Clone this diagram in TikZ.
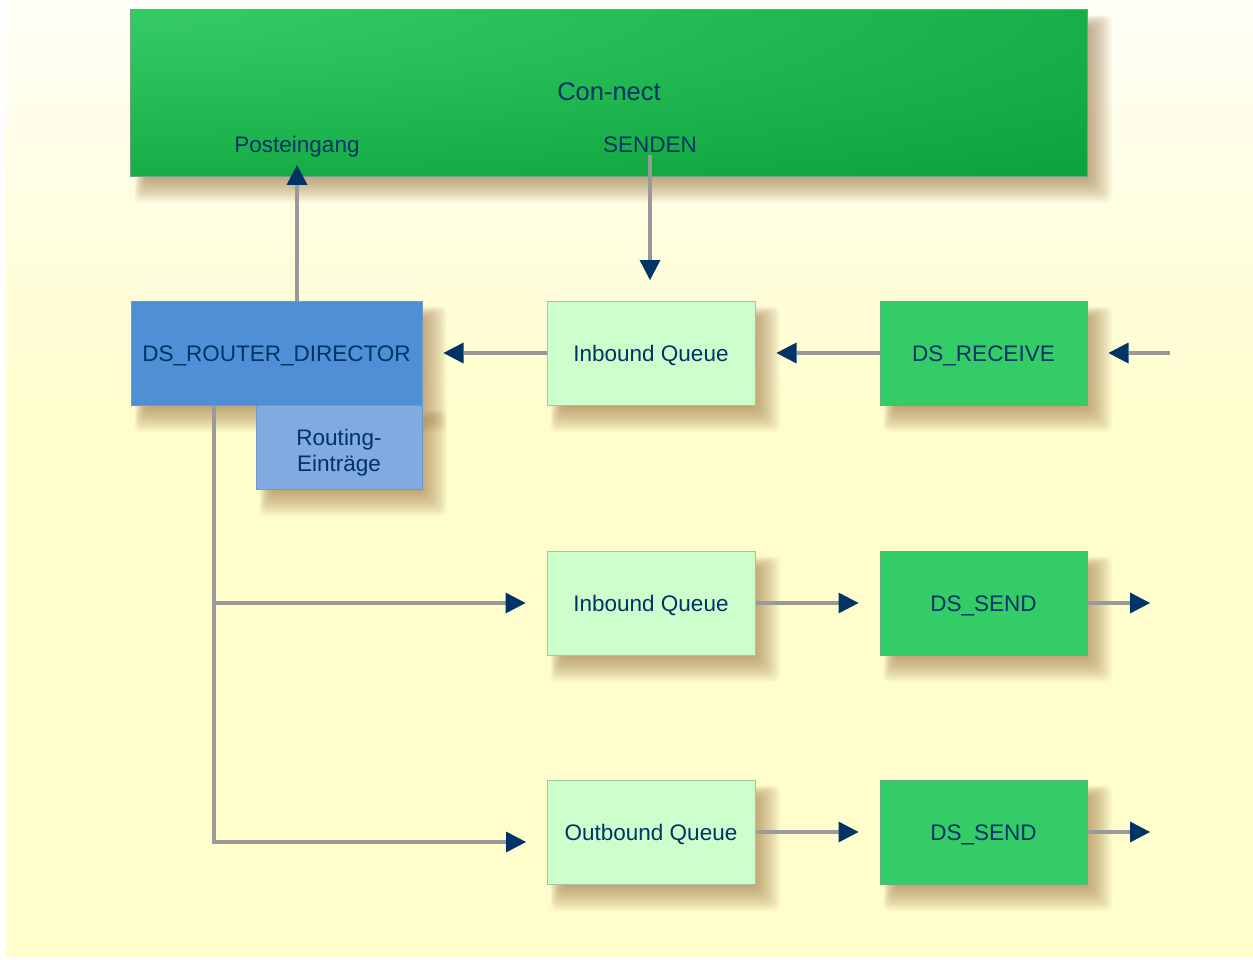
\documentclass[tikz,border=0pt]{standalone}
\usepackage{fontspec}
\setmainfont{Liberation Sans}
\usetikzlibrary{arrows.meta,calc}
\definecolor{bgY}{HTML}{FFFDCC}
\definecolor{bgW}{HTML}{FFFFF7}
\definecolor{gLight}{HTML}{36CB65}
\definecolor{gDark}{HTML}{009933}
\definecolor{topB}{HTML}{6FA384}
\definecolor{dsG}{HTML}{33CC66}
\definecolor{dsB}{HTML}{62AE7E}
\definecolor{iqG}{HTML}{CCFFCC}
\definecolor{iqB}{HTML}{A3C4A3}
\definecolor{rBlue}{HTML}{4F8FD6}
\definecolor{rB}{HTML}{6F98C8}
\definecolor{reBlue}{HTML}{80AAE0}
\definecolor{navy}{HTML}{003366}
\definecolor{lineG}{HTML}{999999}
\definecolor{shcol}{HTML}{94683A}
\pgfdeclarelayer{bglayer}
\pgfdeclarelayer{shadowlayer}
\pgfsetlayers{bglayer,shadowlayer,main}
\newcommand{\softshadow}[1]{%
  \begin{pgfonlayer}{shadowlayer}
    \foreach \e in {-8,-6,...,16}{%
      \fill[shcol,opacity=0.06,rounded corners=6pt]
        ($(#1.north west)+(12-0.5*\e,14-0.5*\e)$) rectangle ($(#1.south east)+(8+\e,10+\e)$);
    }
  \end{pgfonlayer}}
\tikzset{
  txt/.style={font=\fontsize{22.5}{26}\selectfont, text=navy},
  box/.style={txt, rectangle, inner sep=0pt, minimum width=208pt, minimum height=104pt,
    line width=1pt, text height=16pt, text depth=0pt},
  iqbox/.style={box, fill=iqG, draw=iqB},
  dsbox/.style={box, fill=dsG, draw=dsB, minimum width=207pt},
  lbl/.style={txt, inner sep=2pt, anchor=base},
  conn/.style={draw=lineG, line width=3.5pt,
    -{Triangle[length=20pt,width=21pt,color=navy,line width=0pt]}},
}
\begin{document}
\begin{tikzpicture}[x=1pt,y=-1pt]
\useasboundingbox (0,0) rectangle (1253,960);
\begin{pgfonlayer}{bglayer}
  \fill[white] (0,0) rectangle (1253,960);
  \fill[bgY] (6,0) rectangle (1253,957);
  \shade[top color=bgW,bottom color=bgY] (6,0) rectangle (1253,420);
\end{pgfonlayer}

% top box
\node[rectangle, inner sep=0pt, minimum width=956pt, minimum height=166pt,
      fill=gDark, line width=1pt] (connect) at (609,93) {};
\softshadow{connect}
\begin{scope}
  \clip (connect.south west) rectangle (connect.north east);
  \shade[inner color=gLight, outer color=gDark] (131,10) ellipse (1700pt and 280pt);
\end{scope}
\draw[topB, line width=1pt] (connect.south west) rectangle (connect.north east);
\node[lbl, font=\fontsize{25.5}{28}\selectfont] (cnlabel) at (609,101) {Con-nect};
\node[lbl] (postlabel) at (297,153) {Posteingang};
\node[lbl] (sendlabel) at (650,153) {SENDEN};

% boxes
\node[box, fill=rBlue, draw=rB, minimum width=291pt] (router) at (276.5,353) {DS\_ROUTER\_DIRECTOR};
\node[txt, rectangle, inner sep=0pt, minimum width=166pt, minimum height=84pt,
      fill=reBlue, draw=rB, line width=1pt, align=center, text height=48pt, text depth=0pt]
      (routing) at (339,447) {Routing-\\Einträge};
\node[iqbox] (iq1) at (651,353) {Inbound Queue};
\node[dsbox] (recv) at (983.5,353) {DS\_RECEIVE};
\node[iqbox] (iq2) at (651,603) {Inbound Queue};
\node[dsbox] (send1) at (983.5,603) {DS\_SEND};
\node[iqbox] (oq) at (651,832) {Outbound Queue};
\node[dsbox] (send2) at (983.5,832) {DS\_SEND};

\softshadow{router}
\softshadow{routing}
\softshadow{iq1}
\softshadow{recv}
\softshadow{iq2}
\softshadow{send1}
\softshadow{oq}
\softshadow{send2}

% connectors
\coordinate (posttip) at (297,165);
\draw[conn] (router.north -| posttip) -- (posttip);
\coordinate (sendtip) at (650,280);
\draw[conn] (sendlabel.south) -- (sendtip);

\draw[conn, shorten >=21pt] (iq1) -- (router);
\draw[conn, shorten >=21pt] (recv) -- (iq1);
\coordinate (recvin) at (1170,353);
\draw[conn, shorten >=21pt] (recvin) -- (recv);

\coordinate (split) at (214,603);
\coordinate (bend) at (214,842);
\coordinate (oqtip) at (526,842);
\draw[conn] (router.south -| bend) -- (bend) -- (oqtip);
\draw[conn, shorten >=21pt] (split) -- (iq2);
\draw[conn, shorten >=21pt] (iq2) -- (send1);
\coordinate (out1) at (1150,603);
\draw[conn] (send1) -- (out1);
\draw[conn, shorten >=21pt] (oq) -- (send2);
\coordinate (out2) at (1150,832);
\draw[conn] (send2) -- (out2);
\end{tikzpicture}
\end{document}
